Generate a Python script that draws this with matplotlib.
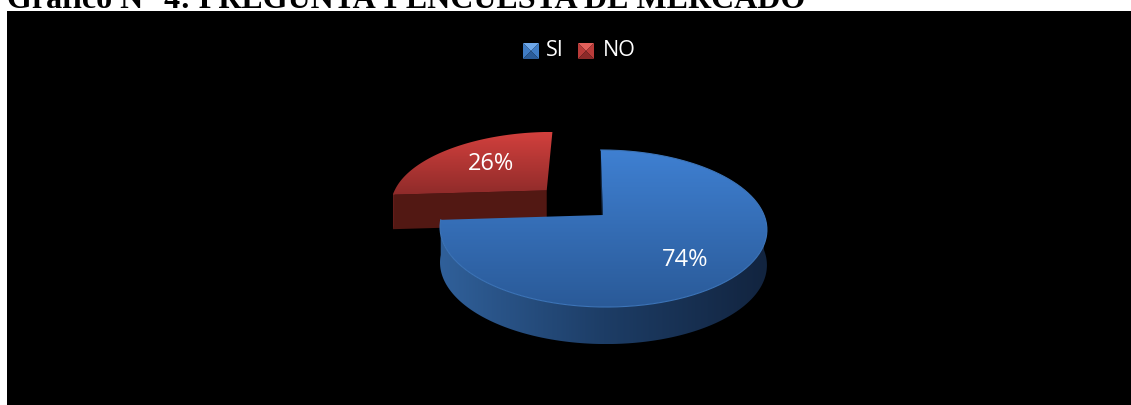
import numpy as np
import matplotlib
matplotlib.use('Agg')
import matplotlib.pyplot as plt
from matplotlib.colors import LinearSegmentedColormap
from matplotlib.patches import Polygon, Rectangle

title = 'Gráfico N° 4: PREGUNTA 1 ENCUESTA DE MERCADO'
categories = ['SI', 'NO']
values = [74, 26]

# pie plane -> screen
CX, CY = 604, 215
RX, RY = 161, 76.2
PERSP = 0.172
SKEW = 0.035
DEPTH = 35
EXPLODE = 0.5


def project(u, v, drop=0):
    w = 1 + PERSP * v
    y = -RY * v / w
    return CX + RX * u / w + SKEW * y - 1, CY + y + drop / w ** 0.3


def ring(start, end, dx=0, dy=0, n=200):
    t = np.radians(np.linspace(start, end, n))
    return np.sin(t) + dx, np.cos(t) + dy


def gradient(ax, patch, colors, box, horizontal=False):
    ax.add_patch(patch)
    patch.set_facecolor('none')
    patch.set_edgecolor('none')
    cmap = LinearSegmentedColormap.from_list('g', colors)
    ramp = np.linspace(0, 1, 256)
    ramp = ramp.reshape(1, -1) if horizontal else ramp.reshape(-1, 1)
    im = ax.imshow(ramp, cmap=cmap, extent=box, aspect='auto', origin='upper',
                   interpolation='bilinear', zorder=patch.get_zorder())
    im.set_clip_path(patch)


def slice_3d(ax, start, end, top_colors, side_colors, cut_color, dx=0, dy=0, z=2):
    # straight cut wall from the centre out to the first angle
    tx, ty = ring(start, start, dx, dy, 2)
    cx0, cy0 = project(dx, dy)
    ex0, ey0 = project(tx[0], ty[0])
    cx1, cy1 = project(dx, dy, DEPTH)
    ex1, ey1 = project(tx[0], ty[0], DEPTH)
    ax.add_patch(Polygon([(cx0, cy0), (ex0, ey0), (ex1, ey1), (cx1, cy1)],
                         closed=True, fc=cut_color, ec='none', zorder=z))

    # outer wall, only the part that faces the front
    lo, hi = max(start, 90), min(end, 270)
    if lo < hi:
        u, v = ring(lo, hi, dx, dy)
        x0, y0 = project(u, v)
        x1, y1 = project(u, v, DEPTH)
        pts = np.r_[np.c_[x0, y0], np.c_[x1, y1][::-1]]
        gradient(ax, Polygon(pts, closed=True, zorder=z + 1), side_colors[::-1],
                 (x0.min(), x0.max(), y1.max(), y0.min()), horizontal=True)

    # top face
    u, v = ring(start, end, dx, dy)
    x, y = project(u, v)
    pts = np.r_[[(cx0, cy0)], np.c_[x, y]]
    gradient(ax, Polygon(pts, closed=True, zorder=z + 2), top_colors,
             (x.min(), x.max(), y.max(), y.min()))
    return x, y


fig = plt.figure(figsize=(11.31, 4.05), dpi=100, facecolor='white')
ax = fig.add_axes([0, 0, 1, 1])
ax.set_axis_off()

ax.add_patch(Rectangle((7, 11), 1124, 394, fc='black', ec='none', zorder=1))
ax.text(7, 8, title, family='Liberation Serif', weight='bold', fontsize=23,
        color='black', ha='left', va='baseline', zorder=0)

angle_si = 360 * values[0] / sum(values)
mid_no = np.radians((angle_si + 360) / 2)
dx_no, dy_no = EXPLODE * np.sin(mid_no), EXPLODE * np.cos(mid_no)

slice_3d(ax, angle_si, 360, ['#d2403d', '#8f2b2a'],
         ['#4f1713', '#6b1f1c'], '#521813', dx_no, dy_no, z=2)
x_si, y_si = slice_3d(ax, 0, angle_si, ['#3f80d2', '#2a5a98'],
                      ['#12243f', '#1d3d66', '#30609a'], '#142a47', z=6)

# thin highlight along the rim of the blue slice
ax.plot(x_si, y_si, color='#3c74b8', lw=0.8, zorder=9)

# percentage labels
mid_si = np.radians(angle_si / 2)
lx, ly = project(0.65 * np.sin(mid_si), 0.65 * np.cos(mid_si))
ax.annotate(f'{values[0]}%', (lx, ly), xytext=(-1.5, -6), textcoords='offset points',
            family='Open Sans', fontsize=17, color='white',
            ha='center', va='center', zorder=12)
lx, ly = project(0.6 * np.sin(mid_no) + dx_no, 0.6 * np.cos(mid_no) + dy_no)
ax.annotate(f'{values[1]}%', (lx, ly), xytext=(3, 0), textcoords='offset points',
            family='Open Sans', fontsize=17, color='white',
            ha='center', va='center', zorder=12)

# legend, small pyramid swatches: top, sides, bottom
swatch_x = [523, 578]
swatch_colors = [('#6ea8ea', '#3f7cc4', '#2b5c98'), ('#e2605b', '#b93b39', '#8c2a29')]
label_x = [546, 603]
for sx, (top, side, bottom), name, tx in zip(swatch_x, swatch_colors, categories, label_x):
    left, right, y0, y1 = sx, sx + 16, 43, 59
    mid = (sx + 8, 51)
    ax.add_patch(Polygon([(left, y0), (right, y0), mid], closed=True, fc=top, ec='none', zorder=4))
    ax.add_patch(Polygon([(left, y0), (left, y1), mid], closed=True, fc=side, ec='none', zorder=4))
    ax.add_patch(Polygon([(right, y0), (right, y1), mid], closed=True, fc=side, ec='none', zorder=4))
    ax.add_patch(Polygon([(left, y1), (right, y1), mid], closed=True, fc=bottom, ec='none', zorder=4))
    ax.text(tx, 51, name, family='Open Sans', fontsize=15.5, color='white',
            ha='left', va='center', zorder=5)

ax.set_xlim(0, 1131)
ax.set_ylim(405, 0)
fig.savefig('out.png', dpi=100, facecolor='white')
